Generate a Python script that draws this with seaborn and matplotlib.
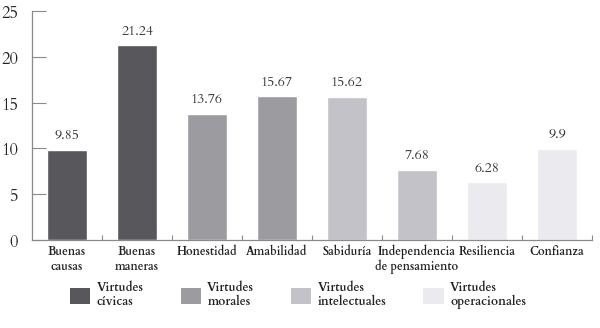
import matplotlib
matplotlib.use("Agg")
import matplotlib.pyplot as plt
import seaborn as sns
import pandas as pd
from matplotlib.patches import Patch

categories = ["Buenas\ncausas", "Buenas\nmaneras", "Honestidad", "Amabilidad",
              "Sabiduría", "Independencia\nde pensamiento", "Resiliencia", "Confianza"]
values = [9.85, 21.24, 13.76, 15.67, 15.62, 7.68, 6.28, 9.9]
value_labels = ["9.85", "21.24", "13.76", "15.67", "15.62", "7.68", "6.28", "9.9"]
groups = ["Virtudes\ncívicas", "Virtudes\ncívicas", "Virtudes\nmorales", "Virtudes\nmorales",
          "Virtudes\nintelectuales", "Virtudes\nintelectuales",
          "Virtudes\noperacionales", "Virtudes\noperacionales"]
group_order = ["Virtudes\ncívicas", "Virtudes\nmorales", "Virtudes\nintelectuales", "Virtudes\noperacionales"]
colors = ["#58575c", "#9c9ba0", "#c2c2c8", "#ebebef"]

sns.set_theme(style="white")
plt.rcParams['font.family'] = ['Cardo', 'DejaVu Serif']

df = pd.DataFrame({"cat": categories, "val": values, "grp": groups})

fig = plt.figure(figsize=(6, 3.28), dpi=100)
ax = fig.add_axes([32/600, 1-240/328, 560/600, 229/328])

sns.barplot(data=df, x="cat", y="val", hue="grp", hue_order=group_order,
            palette=colors, dodge=False, width=0.56, saturation=1, ax=ax,
            legend=False, order=categories)

for i, (v, lab) in enumerate(zip(values, value_labels)):
    ax.text(i, v + 0.75, lab, ha="center", va="bottom", fontsize=10, color="#333333")

ax.set_xlim(-0.5, 7.5)
ax.set_ylim(0, 25)
ax.set_yticks([0, 5, 10, 15, 20, 25])
ax.set_xlabel("")
ax.set_ylabel("")
for s in ["top", "right"]:
    ax.spines[s].set_visible(False)
for s in ["left", "bottom"]:
    ax.spines[s].set_color("#8a8a8a")
    ax.spines[s].set_linewidth(0.9)

ax.tick_params(axis="y", direction="in", length=10, width=0.8, color="#8a8a8a",
               labelsize=12, pad=10, labelcolor="#222222", left=True)
ax.tick_params(axis="x", which="major", length=0, pad=3, labelsize=8.3, labelcolor="#222222")
ax.set_xticks([i + 0.5 for i in range(8)], minor=True)
ax.tick_params(axis="x", which="minor", direction="in", length=3.5, width=0.8,
               color="#8a8a8a", bottom=True)
for t in ax.get_xticklabels():
    t.set_fontweight("bold")
    t.set_linespacing(1.05)

handles = [Patch(facecolor=c, edgecolor="none", label=g) for c, g in zip(colors, group_order)]
leg = fig.legend(handles=handles, loc="center left", bbox_to_anchor=(59/600, 1-295/328),
                 ncol=4, frameon=False, fontsize=8.8, handlelength=1.65, handleheight=1.65,
                 handletextpad=0.55, columnspacing=3.0, labelcolor="#222222")
for t in leg.get_texts():
    t.set_linespacing(1.0)
    t.set_fontweight("bold")

fig.savefig("out.png", dpi=100)
